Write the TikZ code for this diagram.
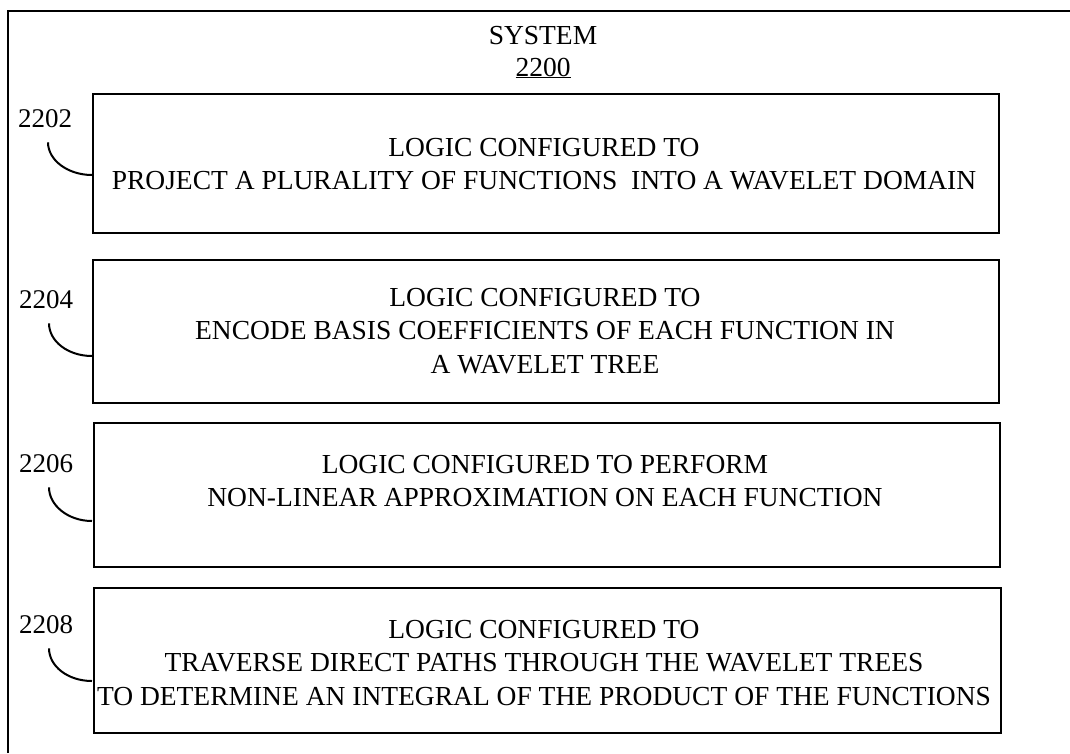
\documentclass[tikz,border=0pt]{standalone}
\usepackage{fontspec}
\setmainfont{Liberation Serif}
\begin{document}
\begin{tikzpicture}[x=1pt,y=-1pt,
  frame/.style={line width=2.5pt},
  box/.style={draw, line width=2pt, anchor=north west, inner sep=0pt, minimum width=906pt},
  txt/.style={font=\fontsize{27.5}{33.5}\selectfont, align=center, inner sep=0pt},
  num/.style={font=\fontsize{27}{33}\selectfont, inner sep=0pt},
  lead/.style={line width=2pt}]
\useasboundingbox (0,0) rectangle (1070,753);
\draw[frame] (8,753) -- (8,11) -- (1070,11);
\node[txt] (sys) at (543,36) {SYSTEM};
\node[txt] (sysn) at (543,68) {\underline{2200}};
% boxes
\node[box, minimum height=139pt] (b1) at (92,93) {};
\node[box, minimum height=143pt] (b2) at (92,259) {};
\node[box, minimum height=144pt] (b3) at (93,422) {};
\node[box, minimum height=145pt, minimum width=907pt] (b4) at (93,587) {};
% texts
\node[txt] (t1) at (544,164) {LOGIC CONFIGURED TO\\PROJECT A PLURALITY OF FUNCTIONS\ \ INTO A WAVELET DOMAIN};
\node[txt] (t2) at (545,331) {LOGIC CONFIGURED TO\\ENCODE BASIS COEFFICIENTS OF EACH FUNCTION IN\\A WAVELET TREE};
\node[txt] (t3) at (545,481) {LOGIC CONFIGURED TO PERFORM\\NON-LINEAR APPROXIMATION ON EACH FUNCTION};
\node[txt] (t4) at (544,663) {LOGIC CONFIGURED TO\\TRAVERSE DIRECT PATHS THROUGH THE WAVELET TREES\\TO DETERMINE AN INTEGRAL OF THE PRODUCT OF THE FUNCTIONS};
% labels
\node[num] (l1) at (45,119) {2202};
\node[num] (l2) at (46,300) {2204};
\node[num] (l3) at (46,464) {2206};
\node[num] (l4) at (46,625) {2208};
\coordinate (e1) at (92,175);
\coordinate (e2) at (92,356);
\coordinate (e3) at (92,521);
\coordinate (e4) at (92,681);
\foreach \i in {1,2,3,4}{
  \draw[lead] ([xshift=3pt,yshift=-14pt]l\i.south) .. controls +(0,18) and +(-24,0) .. (e\i);
}
\end{tikzpicture}
\end{document}
